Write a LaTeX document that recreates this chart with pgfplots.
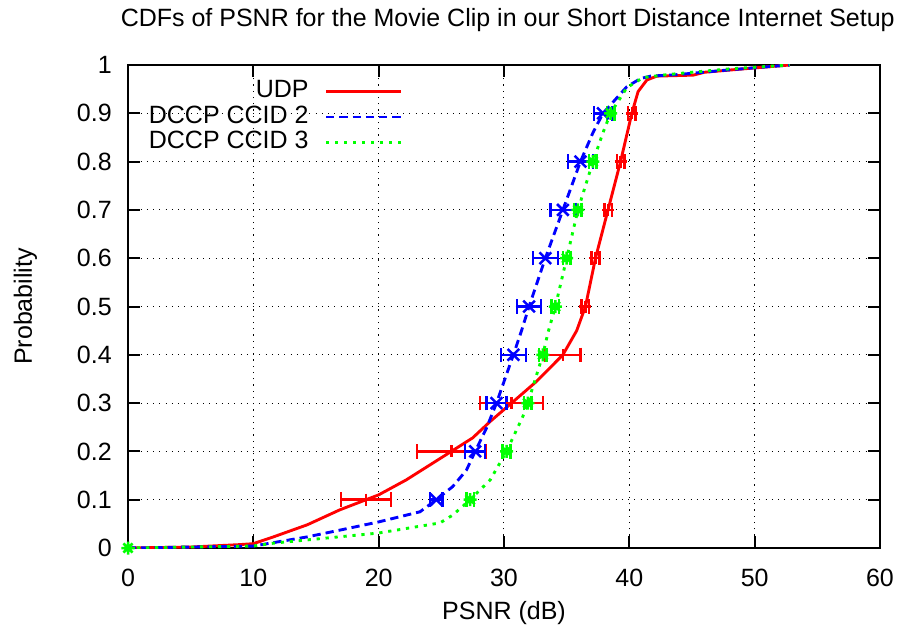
\documentclass[border=0pt]{standalone}
\usepackage{pgfplots}
\pgfplotsset{compat=1.18}
\usepackage{fontspec}
\setmainfont{Liberation Sans}

% gnuplot style "*" point: plus and cross together
\pgfdeclareplotmark{gpstar}{%
  \pgfpathmoveto{\pgfqpoint{-\pgfplotmarksize}{0pt}}%
  \pgfpathlineto{\pgfqpoint{\pgfplotmarksize}{0pt}}%
  \pgfpathmoveto{\pgfqpoint{0pt}{-\pgfplotmarksize}}%
  \pgfpathlineto{\pgfqpoint{0pt}{\pgfplotmarksize}}%
  \pgfpathmoveto{\pgfqpoint{-.707\pgfplotmarksize}{-.707\pgfplotmarksize}}%
  \pgfpathlineto{\pgfqpoint{.707\pgfplotmarksize}{.707\pgfplotmarksize}}%
  \pgfpathmoveto{\pgfqpoint{-.707\pgfplotmarksize}{.707\pgfplotmarksize}}%
  \pgfpathlineto{\pgfqpoint{.707\pgfplotmarksize}{-.707\pgfplotmarksize}}%
  \pgfusepathqstroke}

\definecolor{gpred}{rgb}{1,0,0}
\definecolor{gpblue}{rgb}{0,0,1}
\definecolor{gpgreen}{rgb}{0,1,0}

\pgfplotsset{
  errpts/.style={only marks, forget plot, line width=1bp,
    error bars/.cd, x dir=both, x explicit, error mark=|,
    error bar style={line width=1bp, solid},
    error mark options={line width=1bp, mark size=2.9bp, solid}},
}

\begin{document}
\begin{tikzpicture}
\useasboundingbox (-51.2bp,-31.6bp) rectangle (309.2bp,219.2bp);
\begin{axis}[
  scale only axis,
  width=300.8bp, height=193.2bp,
  xmin=0, xmax=60, ymin=0, ymax=1,
  xtick={0,10,...,60},
  ytick={0,0.1,...,1},
  font=\fontsize{10bp}{12bp}\selectfont,
  /pgf/number format/assume math mode=true,
  axis line style={line width=0.8bp},
  tick style={line width=0.8bp, black},
  major tick length=4.8bp,
  tick align=inside,
  grid=major,
  grid style={black, line width=0.4bp, dash pattern=on 0.5bp off 2bp},
  xticklabel style={yshift=-4.7bp},
  yticklabel style={xshift=-3bp},
  title={CDFs of PSNR for the Movie Clip in our Short Distance Internet Setup},
  title style={at={(axis description cs:0.505,1.0787)}, anchor=base, yshift=-6pt, inner sep=0pt},
  xlabel={PSNR (dB)},
  xlabel style={at={(axis description cs:0.5,-0.149)}, anchor=base, inner sep=0pt},
  ylabel={Probability},
  ylabel style={at={(axis description cs:-0.1277,0.5)}, anchor=base, inner sep=0pt},
  legend image code/.code={\draw[#1] (0bp,0bp) -- (30bp,0bp);},
  legend plot pos=right,
  legend cell align=right,
  legend style={draw=none, fill=none, inner sep=0pt,
    nodes={inner sep=0pt, text height=7.5bp, text depth=2.5bp},
    column sep=6.4bp, row sep=0.2bp,
    at={(axis description cs:0.3657,0.972)}, anchor=north east},
]
% UDP
\addplot[gpred, line width=1.15bp] coordinates {
  (0,0) (5,0.002) (8.9,0.007) (10,0.009) (11.6,0.023) (14.3,0.048) (16.9,0.079)
  (19.0,0.1) (20.0,0.11) (22.2,0.141) (25.8,0.2) (27.5,0.228) (28.9,0.262)
  (30.6,0.3) (32.6,0.345) (34.7,0.4) (35.8,0.45) (36.5,0.5) (37.3,0.6) (38.3,0.7)
  (39.3,0.8) (40.2,0.9) (40.7,0.945) (41.4,0.969) (42.2,0.977) (45.1,0.979) (46,0.985)
  (50,0.994) (52.8,1.0)
};
\addlegendentry{UDP}
\addplot[gpred, mark=+, mark size=2.4bp, errpts] coordinates {
  (19.0,0.1) +- (2.0,0)
  (25.8,0.2) +- (2.75,0)
  (30.6,0.3) +- (2.5,0)
  (34.7,0.4) +- (1.4,0)
  (36.5,0.5) +- (0.3,0)
  (37.3,0.6) +- (0.3,0)
  (38.3,0.7) +- (0.3,0)
  (39.3,0.8) +- (0.3,0)
  (40.2,0.9) +- (0.3,0)
};
% DCCP CCID 2
\addplot[gpblue, line width=1.15bp, dash pattern=on 3.3bp off 2bp] coordinates {
  (0,0) (10,0.004) (14.3,0.023) (16.9,0.037) (20.0,0.054) (23.3,0.075)
  (24.6,0.1) (25.9,0.127) (27.0,0.161) (27.7,0.2) (28.6,0.248) (29.4,0.3)
  (30.75,0.4) (31.4,0.45) (32.0,0.5) (33.3,0.6) (34.7,0.7) (36.1,0.8) (37.1,0.86)
  (37.9,0.9) (39.8,0.955) (40.9,0.972) (41.7,0.977) (43.8,0.98) (48,0.99)
  (52.8,1.0)
};
\addlegendentry{DCCP CCID 2}
\addplot[gpblue, mark=x, mark size=3.3bp, errpts] coordinates {
  (24.6,0.1) +- (0.5,0)
  (27.7,0.2) +- (0.8,0)
  (29.4,0.3) +- (0.8,0)
  (30.75,0.4) +- (1.0,0)
  (32.0,0.5) +- (0.95,0)
  (33.3,0.6) +- (1.0,0)
  (34.7,0.7) +- (1.0,0)
  (36.1,0.8) +- (1.0,0)
  (37.9,0.9) +- (0.7,0)
};
% DCCP CCID 3
\addplot[gpgreen, line width=1.15bp, dash pattern=on 1.3bp off 2.3bp] coordinates {
  (0,0) (10,0.004) (11.6,0.01) (20.0,0.031) (24.9,0.052) (25.9,0.068)
  (27.3,0.1) (28.9,0.141) (30.2,0.2) (31.5,0.272) (31.9,0.3) (33.1,0.4) (33.5,0.445)
  (34.1,0.5) (35.0,0.6) (35.9,0.7) (37.1,0.8) (37.9,0.86) (38.5,0.9)
  (39.8,0.953) (41.1,0.974) (43,0.98) (45,0.985) (48,0.992) (52.8,1.0)
};
\addlegendentry{DCCP CCID 3}
\addplot[gpgreen, mark=gpstar, mark size=2.6bp, errpts] coordinates {
  (0,0) +- (0,0)
  (27.3,0.1) +- (0.3,0)
  (30.2,0.2) +- (0.3,0)
  (31.9,0.3) +- (0.3,0)
  (33.1,0.4) +- (0.3,0)
  (34.1,0.5) +- (0.3,0)
  (35.0,0.6) +- (0.3,0)
  (35.9,0.7) +- (0.3,0)
  (37.1,0.8) +- (0.3,0)
  (38.5,0.9) +- (0.3,0)
};
\end{axis}
\end{tikzpicture}
\end{document}
